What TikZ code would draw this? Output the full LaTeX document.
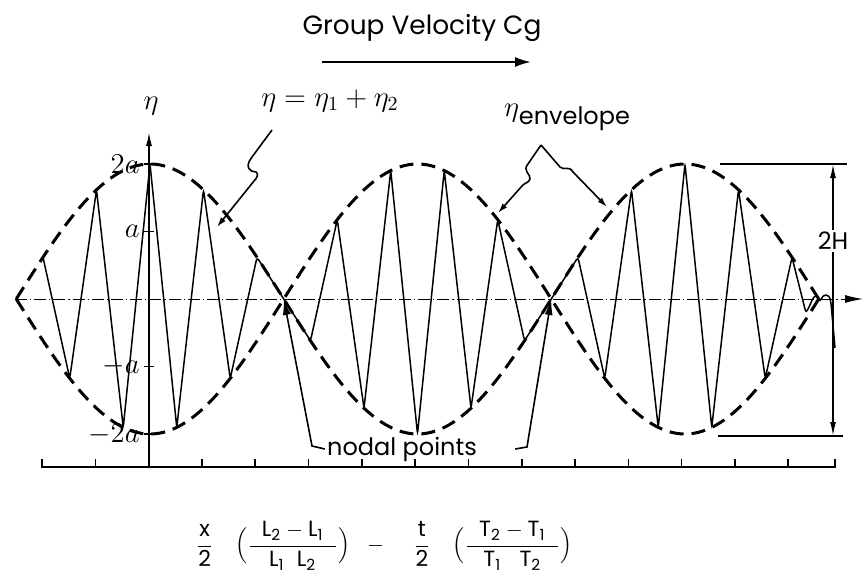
\documentclass[tikz,border=0pt]{standalone}
\usepackage{fontspec}
\setsansfont{Poppins}
\usetikzlibrary{arrows.meta, positioning}

\begin{document}
\begin{tikzpicture}[
    x=0.5pt, y=-0.5pt,
    every node/.style={font=\sffamily\fontsize{12}{14}\selectfont, inner sep=1pt},
    % Estilo para la onda suma (trazo fino, crestas agudas)
    ondaSuma/.style={line width=0.75pt, rounded corners=1.5pt},
    % Estilo para la envolvente (trazos largos y gruesos)
    envolvente/.style={line width=1.5pt, dash pattern=on 7pt off 4pt},
    % Estilo para el eje horizontal (raya y punto)
    ejeRayaPunto/.style={line width=0.5pt, dash pattern=on 6pt off 1.5pt on 0.6pt off 1.5pt},
    % Estilo para las flechas de las etiquetas
    flechaEtiqueta/.style={line width=0.8pt, -{Latex[length=5pt, width=3pt]}},
    flechaNodal/.style={line width=0.8pt, -{Latex[length=8pt, width=4pt]}},
    flechaCota/.style={line width=0.8pt, -{Latex[length=7pt, width=3pt]}},
    flechaCg/.style={line width=1pt, -{Latex[length=8pt, width=5pt]}},
    etiquetaEje/.style={font=\fontsize{14}{16}\selectfont}
]
    \useasboundingbox (0,0) rectangle (864,573);

    % --- PARÁMETROS ---
    \def\ejeY{299}        % nivel medio
    \def\amplitud{135}    % 2a
    \def\xCentro{150}     % cresta máxima
    \def\medLambda{26.75} % media longitud de onda portadora
    \def\lobulo{267.5}    % media longitud de la envolvente
    \def\ejeBase{467}     % eje inferior

    % 1. Puntos clave
    \coordinate (nodo1) at (\xCentro+5*\medLambda, \ejeY);
    \coordinate (nodo2) at (\xCentro+15*\medLambda, \ejeY);
    \coordinate (ejeXini) at (15, \ejeY);
    \coordinate (ejeXfin) at (863, \ejeY);
    \coordinate (ejeEtaIni) at (\xCentro-1, \ejeBase);
    \coordinate (ejeEtaFin) at (\xCentro-1, 132);
    \coordinate (baseIni) at (42, \ejeBase);
    \coordinate (baseFin) at (835, \ejeBase);

    % 2. EJES
    \draw[ejeRayaPunto, -{Latex[length=9pt, width=4pt]}] (ejeXini) -- (ejeXfin);
    \draw[line width=0.8pt, -{Latex[length=7pt, width=3pt]}] (ejeEtaIni) -- (ejeEtaFin);
    \node[etiquetaEje] (etaEje) at (151,106) {$\eta$};
    \foreach \k/\etiq in {2/{$2a$}, 1/{$a$}, -1/{$-a$}, -2/{$-2a$}} {
        \draw[line width=0.6pt] (144, \ejeY-\k*\amplitud/2) -- (154, \ejeY-\k*\amplitud/2);
        \node[etiquetaEje, anchor=east] (eti\k) at (142, \ejeY-\k*\amplitud/2) {\etiq};
    }

    % 3. Eje inferior con marcas
    \draw[line width=0.8pt] ([yshift=4pt]baseIni) -- (baseIni) -- (baseFin) -- ([yshift=4pt]baseFin);
    \foreach \k in {1,...,14}
        \draw[line width=0.8pt] (42+53.3*\k, \ejeBase) -- ++(0,-8);

    % 4. ENVOLVENTE
    \draw[envolvente] plot[domain=16.25:818.75, samples=181]
        (\x, {\ejeY-\amplitud*abs(cos((\x-\xCentro)/\lobulo*180))});
    \draw[envolvente] plot[domain=16.25:818.75, samples=181]
        (\x, {\ejeY+\amplitud*abs(cos((\x-\xCentro)/\lobulo*180))});

    % 5. Onda suma eta = eta_1 + eta_2
    \draw[ondaSuma] plot[samples at={-4,...,24}]
        ({\xCentro+\medLambda*\x}, {\ejeY-\amplitud*cos(18*\x)*cos(180*\x)})
        -- (806,313) -- (811,303) .. controls (814,295) and (818,295) .. (820,302)
        .. controls (823,294) and (829,293) .. (831,303) -- (835,348);

    % 6. Velocidad de grupo
    \node[font=\sffamily\fontsize{13.2}{15}\selectfont] (tituloCg) at (422,28) {Group Velocity Cg};
    \coordinate (cgIni) at (322,62);
    \coordinate (cgFin) at (531,62);
    \draw[flechaCg] (cgIni) -- (cgFin);

    % 7. Etiqueta eta = eta_1 + eta_2
    \node[etiquetaEje] (etaSuma) at (330,101) {$\eta = \eta_1 + \eta_2$};
    \coordinate (inicioSuma) at (272,130);
    \coordinate (puntaSuma) at (217,227);
    \draw[flechaEtiqueta] (inicioSuma) -- (252,157) .. controls (244,167) and (250,172) .. (256,172)
        .. controls (259,174) and (257,178) .. (254,181) -- (puntaSuma);

    % 8. Etiqueta de la envolvente
    \node (etaEnv) at (567,117) {{\fontsize{14}{16}\selectfont$\eta$}\raisebox{-4pt}{envelope}};
    \coordinate (vertice) at (541,145);
    \coordinate (puntaEnvIzq) at (498,213);
    \coordinate (puntaEnvDer) at (607,207);
    \draw[flechaEtiqueta] (vertice) -- (528,164) .. controls (522,171) and (531,174) .. (530,179)
        .. controls (529,183) and (524,183) .. (522,186) -- (puntaEnvIzq);
    \draw[flechaEtiqueta] (vertice) -- (560,167) .. controls (564,171) and (569,165) .. (573,172) -- (puntaEnvDer);

    % 9. COTA 2H
    \coordinate (cotaSup) at (833,164);
    \coordinate (cotaInf) at (833,436);
    \draw[line width=0.8pt] (720,164) -- (847,164);
    \draw[line width=0.8pt] (718,436) -- (843,436);
    \node (etiqH) at (833,241) {2H};
    \draw[flechaCota] (etiqH) -- (cotaSup);
    \draw[flechaCota] (etiqH) -- (cotaInf);

    % 10. PUNTOS NODALES
    \node (nodales) at (402,449) {nodal points};
    \coordinate (codoIzq) at (312,446);
    \coordinate (codoDer) at (527,447);
    \draw[flechaNodal] (nodales.west) -- (codoIzq) -- (nodo1);
    \draw[flechaNodal] ([xshift=18pt]nodales.east) -- (codoDer) -- (nodo2);

    % 11. Argumento de la envolvente
    \node[font=\sffamily\fontsize{11}{13}\selectfont] (formula) at (384,546)
        {$\displaystyle\mathsf{\frac{x}{2}\quad\Bigl(\frac{\;\;L_2-L_1\;\;}{L_1\;\;L_2}\Bigr)\;\;-\;\;\;\;\frac{t}{2}\quad\Bigl(\frac{\;\;T_2-T_1\;\;}{T_1\;\;\;T_2}\Bigr)}$};

\end{tikzpicture}
\end{document}
